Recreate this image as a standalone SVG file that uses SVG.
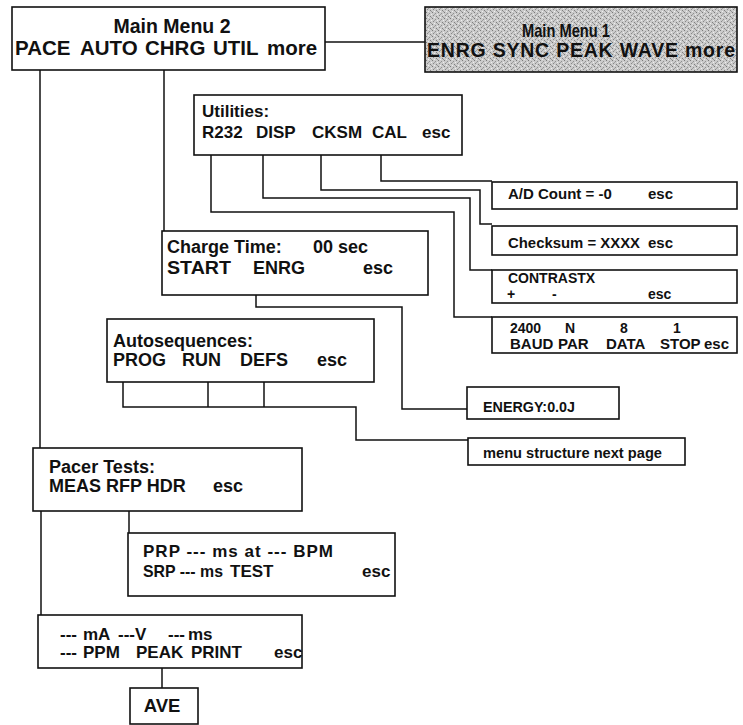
<svg xmlns="http://www.w3.org/2000/svg" width="743" height="725" viewBox="0 0 743 725">
<style>
.bx{fill:#fff;stroke:#111;stroke-width:1.6}
.ln{fill:none;stroke:#111;stroke-width:1.5}
text{font-family:"Liberation Sans",Arial,sans-serif;font-weight:bold;fill:#111}
.t20{font-size:20.5px}
.t18{font-size:18px}
.t17{font-size:17px}
.t16{font-size:16px}
.t15{font-size:15px}
.t14{font-size:14px}
</style>
<defs>
<pattern id="grain" width="6" height="6" patternUnits="userSpaceOnUse">
<rect width="6" height="6" fill="#cbcbcb"/>
<rect x="0" y="0" width="1" height="1" fill="#7a7a7a"/>
<rect x="3" y="1" width="1" height="1" fill="#909090"/>
<rect x="1" y="3" width="1" height="1" fill="#888"/>
<rect x="4" y="4" width="1" height="1" fill="#808080"/>
<rect x="2" y="2" width="1" height="1" fill="#a0a0a0"/>
<rect x="5" y="2" width="1" height="1" fill="#efefef"/>
<rect x="2" y="5" width="1" height="1" fill="#efefef"/>
<rect x="5" y="5" width="1" height="1" fill="#999"/>
</pattern>
</defs>

<g id="connectors">
<path class="ln" d="M325,42 H425"/>
<path class="ln" d="M40,70 V448"/>
<path class="ln" d="M41,511 V615"/>
<path class="ln" d="M164,70 V231"/>
<path class="ln" d="M381,155 V181 H492"/>
<path class="ln" d="M321,155 V190 H480 V224 H492"/>
<path class="ln" d="M263,155 V198 H470 V270 H492"/>
<path class="ln" d="M211,155 V212 H454 V317 H492"/>
<path class="ln" d="M256,295 V307 H402 V409 H467"/>
<path class="ln" d="M123,382 V407 H356 V440 H468"/>
<path class="ln" d="M208,382 V407"/>
<path class="ln" d="M264,382 V407"/>
<path class="ln" d="M129,511 V533"/>
<path class="ln" d="M162,668 V688"/>
</g>

<g id="mainmenu2">
<rect class="bx" x="12" y="7" width="313" height="63"/>
<text class="t20" x="172" y="33" text-anchor="middle" style="font-size:19.5px">Main Menu 2</text>
<text class="t20" y="55"><tspan x="15">PACE</tspan><tspan x="80">AUTO</tspan><tspan x="145">CHRG</tspan><tspan x="213">UTIL</tspan><tspan x="267">more</tspan></text>
</g>

<g id="mainmenu1">
<rect x="425" y="7" width="312" height="65" fill="url(#grain)" stroke="#111" stroke-width="1.6"/>
<text x="522" y="37" style="font-size:19px" textLength="88" lengthAdjust="spacingAndGlyphs">Main Menu 1</text>
<text x="427" y="57" style="font-size:19.5px" textLength="308" lengthAdjust="spacing">ENRG SYNC PEAK WAVE more</text>
</g>

<g id="utilities">
<rect class="bx" x="194" y="95" width="268" height="60"/>
<text class="t17" x="202" y="117">Utilities:</text>
<text class="t17" y="138"><tspan x="202">R232</tspan><tspan x="256">DISP</tspan><tspan x="312">CKSM</tspan><tspan x="372">CAL</tspan><tspan x="422">esc</tspan></text>
</g>

<g id="adcount">
<rect class="bx" x="492" y="182" width="245" height="27"/>
<text class="t15" x="508" y="199">A/D Count = -0</text>
<text class="t15" x="648" y="199">esc</text>
</g>

<g id="checksum">
<rect class="bx" x="492" y="226" width="245" height="29"/>
<text class="t15" x="508" y="248" textLength="132" lengthAdjust="spacingAndGlyphs">Checksum = XXXX</text>
<text class="t15" x="648" y="248">esc</text>
</g>

<g id="contrast">
<rect class="bx" x="492" y="270" width="245" height="33"/>
<text class="t14" x="508" y="283">CONTRASTX</text>
<text class="t14" y="299"><tspan x="507">+</tspan><tspan x="552">-</tspan><tspan x="648">esc</tspan></text>
</g>

<g id="baud">
<rect class="bx" x="492" y="317" width="245" height="36"/>
<text class="t14" y="333"><tspan x="510">2400</tspan><tspan x="565">N</tspan><tspan x="620">8</tspan><tspan x="673">1</tspan></text>
<text class="t15" y="349"><tspan x="510">BAUD</tspan><tspan x="558">PAR</tspan><tspan x="606">DATA</tspan><tspan x="660">STOP</tspan><tspan x="704">esc</tspan></text>
</g>

<g id="chargetime">
<rect class="bx" x="162" y="231" width="266" height="64"/>
<text class="t18" y="253"><tspan x="167">Charge Time:</tspan><tspan x="313">00 sec</tspan></text>
<text class="t18" y="274"><tspan x="167" textLength="64" lengthAdjust="spacingAndGlyphs">START</tspan><tspan x="253">ENRG</tspan><tspan x="363">esc</tspan></text>
</g>

<g id="autosequences">
<rect class="bx" x="107" y="319" width="267" height="63"/>
<text class="t18" x="113" y="347">Autosequences:</text>
<text class="t18" y="366"><tspan x="113">PROG</tspan><tspan x="182">RUN</tspan><tspan x="240">DEFS</tspan><tspan x="317">esc</tspan></text>
</g>

<g id="energy">
<rect class="bx" x="467" y="387" width="152" height="32"/>
<text class="t15" x="483" y="412" textLength="92" lengthAdjust="spacingAndGlyphs">ENERGY:0.0J</text>
</g>

<g id="nextpage">
<rect class="bx" x="468" y="438" width="217" height="27"/>
<text class="t15" x="483" y="458" textLength="179" lengthAdjust="spacingAndGlyphs">menu structure next page</text>
</g>

<g id="pacertests">
<rect class="bx" x="33" y="448" width="269" height="63"/>
<text class="t18" x="49" y="473" textLength="106" lengthAdjust="spacingAndGlyphs">Pacer Tests:</text>
<text class="t18" y="492"><tspan x="49">MEAS RFP HDR</tspan><tspan x="213">esc</tspan></text>
</g>

<g id="prp">
<rect class="bx" x="128" y="533" width="267" height="63"/>
<text class="t17" x="143" y="557" textLength="190" lengthAdjust="spacing">PRP --- ms at --- BPM</text>
<text class="t17" y="577"><tspan x="143" textLength="80" lengthAdjust="spacingAndGlyphs">SRP --- ms</tspan><tspan x="230">TEST</tspan><tspan x="362">esc</tspan></text>
</g>

<g id="measure">
<rect class="bx" x="38" y="615" width="264" height="53"/>
<text class="t17" y="640"><tspan x="60">---</tspan><tspan x="83">mA</tspan><tspan x="118">---V</tspan><tspan x="168">---</tspan><tspan x="188">ms</tspan></text>
<text class="t17" y="658"><tspan x="60">---</tspan><tspan x="83">PPM</tspan><tspan x="136">PEAK</tspan><tspan x="191">PRINT</tspan><tspan x="274">esc</tspan></text>
</g>

<g id="ave">
<rect class="bx" x="130" y="688" width="68" height="36"/>
<text x="162" y="712" text-anchor="middle" style="font-size:18.5px">AVE</text>
</g>
</svg>
